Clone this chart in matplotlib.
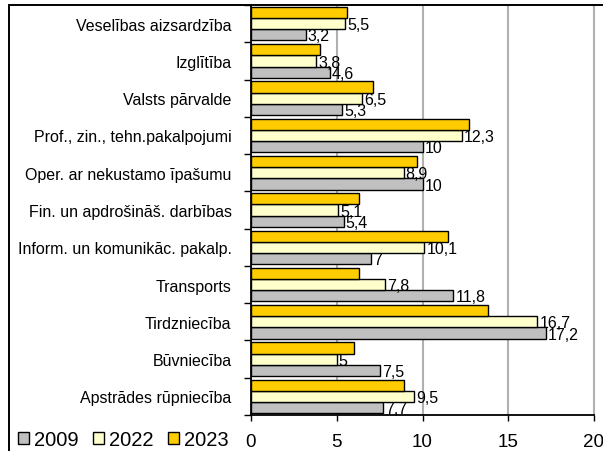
import numpy as np
import matplotlib.pyplot as plt
from matplotlib.patches import Rectangle

plt.rcParams['font.family'] = ['Liberation Sans', 'DejaVu Sans']

# nozares, no apakšas uz augšu
nozares = ['Apstrādes rūpniecība', 'Būvniecība', 'Tirdzniecība', 'Transports',
           'Inform. un komunikāc. pakalp.', 'Fin. un apdrošināš. darbības',
           'Oper. ar nekustamo īpašumu', 'Prof., zin., tehn.pakalpojumi',
           'Valsts pārvalde', 'Izglītība', 'Veselības aizsardzība']

v2009 = [7.7, 7.5, 17.2, 11.8, 7, 5.4, 10, 10, 5.3, 4.6, 3.2]
v2022 = [9.5, 5, 16.7, 7.8, 10.1, 5.1, 8.9, 12.3, 6.5, 3.8, 5.5]
v2023 = [8.9, 6.0, 13.8, 6.3, 11.5, 6.3, 9.7, 12.7, 7.1, 4.0, 5.6]

gadi = ['2009', '2022', '2023']
krasas = ['#C0C0C0', '#FFFFCC', '#FFCC00']

fig = plt.figure(figsize=(6.03, 4.52), dpi=100)
ax = fig.add_axes([251/603, 1 - 416/452, (594 - 251)/603, 410/452])

y = np.arange(len(nozares))
h = 0.3
b09 = ax.barh(y - h, v2009, height=h, color=krasas[0], edgecolor='black', linewidth=1)
b22 = ax.barh(y, v2022, height=h, color=krasas[1], edgecolor='black', linewidth=1)
b23 = ax.barh(y + h, v2023, height=h, color=krasas[2], edgecolor='black', linewidth=1)

# datu iezīmes tikai 2009 un 2022
for vals, off in [(v2009, -h), (v2022, 0)]:
    for i, v in enumerate(vals):
        ax.text(v + 0.12, i + off - 0.03, f'{v:g}'.replace('.', ','), va='center', ha='left',
                fontsize=11.5)

ax.set_xlim(0, 20)
ax.set_ylim(-0.5, len(nozares) - 0.5)
ax.set_xticks([0, 5, 10, 15, 20])
ax.tick_params(axis='x', direction='out', length=4, width=1, pad=9, labelsize=13.5)

ax.set_yticks(y)
ax.set_yticklabels(nozares, fontsize=11.5)
ax.tick_params(axis='y', length=0, pad=14)
ax.set_yticks(np.arange(-0.5, len(nozares)), minor=True)
ax.tick_params(axis='y', which='minor', direction='out', length=5, width=1)

for xv in [5, 10, 15]:
    ax.axvline(xv, color='#B0B0B0', linewidth=1.5, zorder=0)
ax.spines['right'].set_color('#B0B0B0')
ax.spines['right'].set_linewidth(1.5)
ax.spines['top'].set_visible(False)
ax.spines['left'].set_linewidth(1.3)
ax.spines['bottom'].set_linewidth(1.3)

# ārējais rāmis
fig.patches.append(Rectangle((9/603, -0.1), 1.2, 1.1 - 6/452, transform=fig.transFigure,
                             fill=False, edgecolor='black', linewidth=1.4))

fig.legend([b09, b22, b23], gadi, ncol=3, loc='center left',
           bbox_to_anchor=(18/603, 1 - 441/452), frameon=False, fontsize=14.5,
           handlelength=0.55, handleheight=0.55, handletextpad=0.25,
           columnspacing=0.7, borderpad=0, borderaxespad=0)

fig.savefig('out.png', dpi=100)
